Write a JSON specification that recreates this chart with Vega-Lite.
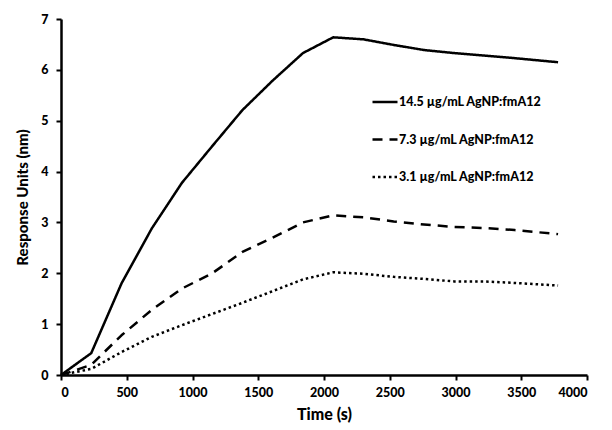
{
  "$schema": "https://vega.github.io/schema/vega-lite/v6.json",
  "width": 526,
  "height": 356,
  "autosize": {"type": "none"},
  "padding": {"left": 61, "top": 19, "right": 25, "bottom": 55},
  "background": "white",
  "config": {
    "view": {"stroke": null},
    "font": "Lato",
    "axis": {
      "grid": false,
      "domainColor": "black",
      "domainWidth": 2.5,
      "tickColor": "black",
      "tickWidth": 2,
      "tickSize": 5,
      "labelFont": "Lato",
      "labelFontWeight": 900,
      "labelFontSize": 12.5,
      "labelColor": "black",
      "titleFont": "Lato",
      "titleFontWeight": 900,
      "titleColor": "black"
    }
  },
  "data": {
    "values": [
      {"t": 0, "r": 0, "s": "14.5 µg/mL AgNP:fmA12"},
      {"t": 230, "r": 0.43, "s": "14.5 µg/mL AgNP:fmA12"},
      {"t": 460, "r": 1.8, "s": "14.5 µg/mL AgNP:fmA12"},
      {"t": 690, "r": 2.88, "s": "14.5 µg/mL AgNP:fmA12"},
      {"t": 920, "r": 3.78, "s": "14.5 µg/mL AgNP:fmA12"},
      {"t": 1150, "r": 4.5, "s": "14.5 µg/mL AgNP:fmA12"},
      {"t": 1380, "r": 5.21, "s": "14.5 µg/mL AgNP:fmA12"},
      {"t": 1610, "r": 5.79, "s": "14.5 µg/mL AgNP:fmA12"},
      {"t": 1840, "r": 6.33, "s": "14.5 µg/mL AgNP:fmA12"},
      {"t": 2070, "r": 6.64, "s": "14.5 µg/mL AgNP:fmA12"},
      {"t": 2300, "r": 6.6, "s": "14.5 µg/mL AgNP:fmA12"},
      {"t": 2530, "r": 6.49, "s": "14.5 µg/mL AgNP:fmA12"},
      {"t": 2760, "r": 6.39, "s": "14.5 µg/mL AgNP:fmA12"},
      {"t": 2990, "r": 6.33, "s": "14.5 µg/mL AgNP:fmA12"},
      {"t": 3220, "r": 6.28, "s": "14.5 µg/mL AgNP:fmA12"},
      {"t": 3450, "r": 6.23, "s": "14.5 µg/mL AgNP:fmA12"},
      {"t": 3780, "r": 6.15, "s": "14.5 µg/mL AgNP:fmA12"},
      {"t": 0, "r": 0, "s": "7.3 µg/mL AgNP:fmA12"},
      {"t": 230, "r": 0.2, "s": "7.3 µg/mL AgNP:fmA12"},
      {"t": 460, "r": 0.78, "s": "7.3 µg/mL AgNP:fmA12"},
      {"t": 690, "r": 1.28, "s": "7.3 µg/mL AgNP:fmA12"},
      {"t": 920, "r": 1.7, "s": "7.3 µg/mL AgNP:fmA12"},
      {"t": 1150, "r": 2.0, "s": "7.3 µg/mL AgNP:fmA12"},
      {"t": 1380, "r": 2.42, "s": "7.3 µg/mL AgNP:fmA12"},
      {"t": 1610, "r": 2.7, "s": "7.3 µg/mL AgNP:fmA12"},
      {"t": 1840, "r": 3.0, "s": "7.3 µg/mL AgNP:fmA12"},
      {"t": 2070, "r": 3.14, "s": "7.3 µg/mL AgNP:fmA12"},
      {"t": 2300, "r": 3.1, "s": "7.3 µg/mL AgNP:fmA12"},
      {"t": 2530, "r": 3.02, "s": "7.3 µg/mL AgNP:fmA12"},
      {"t": 2760, "r": 2.96, "s": "7.3 µg/mL AgNP:fmA12"},
      {"t": 2990, "r": 2.91, "s": "7.3 µg/mL AgNP:fmA12"},
      {"t": 3220, "r": 2.89, "s": "7.3 µg/mL AgNP:fmA12"},
      {"t": 3450, "r": 2.85, "s": "7.3 µg/mL AgNP:fmA12"},
      {"t": 3780, "r": 2.77, "s": "7.3 µg/mL AgNP:fmA12"},
      {"t": 0, "r": 0, "s": "3.1 µg/mL AgNP:fmA12"},
      {"t": 230, "r": 0.12, "s": "3.1 µg/mL AgNP:fmA12"},
      {"t": 460, "r": 0.45, "s": "3.1 µg/mL AgNP:fmA12"},
      {"t": 690, "r": 0.75, "s": "3.1 µg/mL AgNP:fmA12"},
      {"t": 920, "r": 0.98, "s": "3.1 µg/mL AgNP:fmA12"},
      {"t": 1150, "r": 1.2, "s": "3.1 µg/mL AgNP:fmA12"},
      {"t": 1380, "r": 1.42, "s": "3.1 µg/mL AgNP:fmA12"},
      {"t": 1610, "r": 1.65, "s": "3.1 µg/mL AgNP:fmA12"},
      {"t": 1840, "r": 1.88, "s": "3.1 µg/mL AgNP:fmA12"},
      {"t": 2070, "r": 2.02, "s": "3.1 µg/mL AgNP:fmA12"},
      {"t": 2300, "r": 1.99, "s": "3.1 µg/mL AgNP:fmA12"},
      {"t": 2530, "r": 1.93, "s": "3.1 µg/mL AgNP:fmA12"},
      {"t": 2760, "r": 1.89, "s": "3.1 µg/mL AgNP:fmA12"},
      {"t": 2990, "r": 1.84, "s": "3.1 µg/mL AgNP:fmA12"},
      {"t": 3220, "r": 1.84, "s": "3.1 µg/mL AgNP:fmA12"},
      {"t": 3450, "r": 1.81, "s": "3.1 µg/mL AgNP:fmA12"},
      {"t": 3780, "r": 1.76, "s": "3.1 µg/mL AgNP:fmA12"}
    ]
  },
  "mark": {"type": "line", "color": "black", "strokeWidth": 2.5, "strokeCap": "butt", "strokeJoin": "round"},
  "encoding": {
    "x": {
      "field": "t",
      "type": "quantitative",
      "scale": {"domain": [0, 4000], "nice": false},
      "axis": {"values": [0, 500, 1000, 1500, 2000, 2500, 3000, 3500, 4000], "format": "d", "title": "Time (s)", "titleFontSize": 16, "titlePadding": 8, "labelPadding": 6}
    },
    "y": {
      "field": "r",
      "type": "quantitative",
      "scale": {"domain": [0, 7], "nice": false},
      "axis": {"values": [0, 1, 2, 3, 4, 5, 6, 7], "format": "d", "title": "Response Units (nm)", "titleFontSize": 15, "titlePadding": 10, "labelPadding": 8}
    },
    "strokeDash": {
      "field": "s",
      "type": "nominal",
      "scale": {
        "domain": ["14.5 µg/mL AgNP:fmA12", "7.3 µg/mL AgNP:fmA12", "3.1 µg/mL AgNP:fmA12"],
        "range": [[1, 0], [10, 7], [2.5, 3]]
      },
      "legend": {
        "title": null,
        "orient": "none",
        "legendX": 310,
        "legendY": 69,
        "symbolType": "stroke",
        "symbolSize": 625,
        "symbolStrokeWidth": 2.5,
        "symbolStrokeColor": "black",
        "labelFont": "Lato",
        "labelFontWeight": 900,
        "labelFontSize": 12.5,
        "labelColor": "black",
        "labelOffset": 0,
        "rowPadding": 16.5
      }
    }
  }
}
